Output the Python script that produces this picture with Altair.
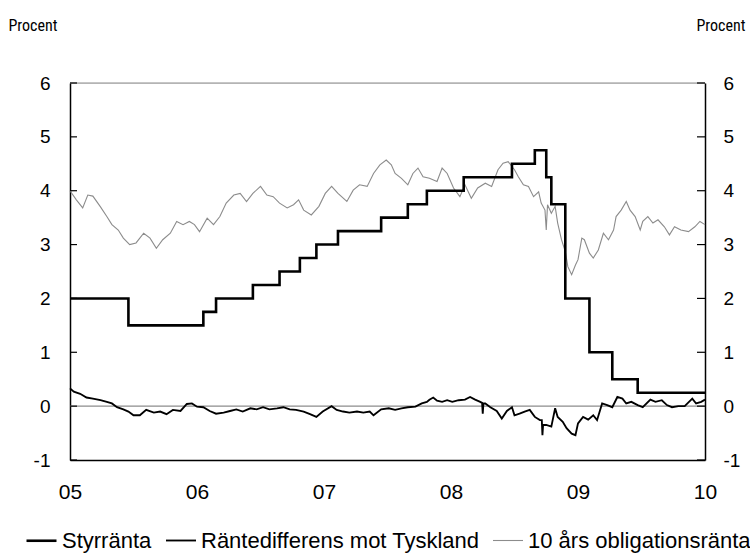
import altair as alt
import pandas as pd

# ---- Styrränta (step series) ----
rate_year = [2005.0, 2005.46, 2006.05, 2006.15, 2006.44, 2006.65, 2006.81, 2006.94, 2007.11,
             2007.45, 2007.66, 2007.81, 2008.10, 2008.48, 2008.66, 2008.75, 2008.79, 2008.90,
             2009.09, 2009.27, 2009.47, 2010.0]
rate_val = [2.0, 1.5, 1.75, 2.0, 2.25, 2.5, 2.75, 3.0, 3.25,
            3.5, 3.75, 4.0, 4.25, 4.5, 4.75, 4.25, 3.75, 2.0,
            1.0, 0.5, 0.25, 0.25]

# ---- 10 års obligationsränta ----
bond_year = [2005.00, 2005.05, 2005.10, 2005.14, 2005.18, 2005.24, 2005.29, 2005.33, 2005.38, 2005.42,
             2005.47, 2005.52, 2005.58, 2005.63, 2005.68, 2005.73, 2005.79, 2005.84, 2005.89, 2005.94,
             2005.98, 2006.02, 2006.08, 2006.13, 2006.18, 2006.23, 2006.29, 2006.34, 2006.39, 2006.44,
             2006.50, 2006.55, 2006.60, 2006.65, 2006.71, 2006.76, 2006.80, 2006.84, 2006.90, 2006.96,
             2007.01, 2007.06, 2007.11, 2007.18, 2007.23, 2007.28, 2007.34, 2007.39,
             2007.44, 2007.49, 2007.53, 2007.56, 2007.61, 2007.66, 2007.70, 2007.74, 2007.78, 2007.83,
             2007.89, 2007.93, 2007.97,
             2008.02, 2008.07, 2008.11, 2008.16, 2008.21, 2008.27, 2008.32, 2008.37, 2008.41, 2008.45,
             2008.48, 2008.50, 2008.53, 2008.57, 2008.61, 2008.65, 2008.69, 2008.71, 2008.74, 2008.75,
             2008.76, 2008.79, 2008.82, 2008.84, 2008.87, 2008.90, 2008.92, 2008.95, 2008.98,
             2009.00, 2009.03, 2009.05, 2009.09, 2009.12, 2009.16, 2009.20, 2009.24, 2009.28, 2009.30,
             2009.34, 2009.38, 2009.41, 2009.45, 2009.49, 2009.51, 2009.55, 2009.59, 2009.63, 2009.68,
             2009.72, 2009.76, 2009.81, 2009.87, 2009.92, 2009.96, 2010.00]
bond_val = [4.00, 3.83, 3.68, 3.92, 3.90, 3.70, 3.52, 3.37, 3.27, 3.12,
            3.00, 3.03, 3.21, 3.12, 2.93, 3.09, 3.21, 3.43, 3.37, 3.43,
            3.37, 3.24, 3.49, 3.37, 3.52, 3.77, 3.92, 3.95, 3.80, 3.95,
            4.08, 3.92, 3.89, 3.77, 3.68, 3.74, 3.83, 3.64, 3.55, 3.71,
            3.95, 4.08, 3.95, 3.80, 4.01, 4.11, 4.08, 4.32,
            4.48, 4.57, 4.48, 4.32, 4.23, 4.11, 4.32, 4.42, 4.26, 4.23,
            4.17, 4.42, 4.32,
            4.05, 3.89, 4.11, 3.86, 4.05, 4.14, 4.08, 4.39, 4.51, 4.54,
            4.45, 4.39, 4.26, 4.11, 4.08, 3.89, 3.98, 3.77, 3.64, 3.27,
            3.74, 3.58, 3.71, 3.40, 3.09, 2.87, 2.59, 2.44, 2.62,
            2.72, 3.12, 3.09, 2.84, 2.75, 2.90, 3.21, 3.09, 3.27, 3.52,
            3.64, 3.80, 3.64, 3.52, 3.27, 3.43, 3.52, 3.40, 3.46, 3.33,
            3.18, 3.33, 3.27, 3.24, 3.33, 3.43, 3.37]

# ---- Räntedifferens mot Tyskland ----
diff_year = [2005.00, 2005.03, 2005.08, 2005.13, 2005.18, 2005.24, 2005.29, 2005.33, 2005.37, 2005.42,
             2005.46, 2005.50, 2005.55, 2005.60, 2005.66, 2005.71, 2005.76, 2005.81, 2005.87, 2005.92,
             2005.96, 2006.00, 2006.05, 2006.10, 2006.15, 2006.21, 2006.26, 2006.31, 2006.36, 2006.42,
             2006.47, 2006.52, 2006.57, 2006.63, 2006.68, 2006.73, 2006.78, 2006.84, 2006.89, 2006.94,
             2006.99, 2007.06, 2007.10, 2007.15, 2007.20, 2007.26, 2007.31, 2007.36, 2007.39,
             2007.45, 2007.51, 2007.56, 2007.61, 2007.66, 2007.72, 2007.77, 2007.81, 2007.83, 2007.86,
             2007.89, 2007.93, 2007.97,
             2008.01, 2008.06, 2008.11, 2008.15, 2008.19, 2008.23, 2008.245, 2008.25, 2008.255, 2008.27,
             2008.31, 2008.36, 2008.40, 2008.44, 2008.48, 2008.50, 2008.54, 2008.58, 2008.62, 2008.66,
             2008.70, 2008.715, 2008.72, 2008.725, 2008.75, 2008.79, 2008.82, 2008.84, 2008.88, 2008.91,
             2008.95, 2008.98,
             2009.00, 2009.04, 2009.08, 2009.12, 2009.15, 2009.19, 2009.23, 2009.27, 2009.31, 2009.35,
             2009.38, 2009.42, 2009.47, 2009.51, 2009.57, 2009.61, 2009.66, 2009.70, 2009.74, 2009.79,
             2009.84, 2009.90, 2009.93, 2009.97, 2010.00]
diff_val = [0.33, 0.27, 0.23, 0.16, 0.14, 0.11, 0.08, 0.05, -0.02, -0.06,
            -0.10, -0.17, -0.17, -0.07, -0.12, -0.10, -0.15, -0.07, -0.09, 0.04,
            0.05, -0.01, -0.02, -0.09, -0.14, -0.12, -0.09, -0.06, -0.10, -0.04,
            -0.06, -0.02, -0.06, -0.04, -0.02, -0.06, -0.07, -0.10, -0.15, -0.20,
            -0.10, 0.00, -0.07, -0.10, -0.12, -0.10, -0.12, -0.10, -0.17,
            -0.06, -0.04, -0.07, -0.04, -0.02, -0.01, 0.05, 0.08, 0.12, 0.16,
            0.10, 0.08, 0.11,
            0.08, 0.11, 0.12, 0.17, 0.12, 0.08, 0.06, -0.14, 0.05, 0.05,
            -0.02, -0.09, -0.23, -0.09, -0.02, -0.17, -0.14, -0.10, -0.07, -0.20,
            -0.26, -0.26, -0.54, -0.35, -0.35, -0.38, -0.04, -0.20, -0.29, -0.41,
            -0.51, -0.54,
            -0.32, -0.20, -0.25, -0.17, -0.26, 0.05, 0.02, -0.02, 0.17, 0.14,
            0.05, 0.08, 0.02, -0.02, 0.12, 0.08, 0.11, 0.02, -0.02, 0.00,
            0.00, 0.14, 0.05, 0.08, 0.12]

series_names = ["Styrränta", "Räntedifferens mot Tyskland", "10 års obligationsränta"]
series_colors = ["#000000", "#000000", "#8c8c8c"]
series_widths = [2.6, 1.1, 1.2]

x_ticks = [2005, 2006, 2007, 2008, 2009, 2010]
y_ticks = [-1, 0, 1, 2, 3, 4, 5, 6]

df_rate = pd.DataFrame({"year": rate_year, "value": rate_val, "serie": series_names[0]})
df_diff = pd.DataFrame({"year": diff_year, "value": diff_val, "serie": series_names[1]})
df_bond = pd.DataFrame({"year": bond_year, "value": bond_val, "serie": series_names[2]})
df_yt = pd.DataFrame({"v": y_ticks})
df_zero = pd.DataFrame({"v": [0]})

W, H = 635, 377
FONT = "Liberation Sans"
NARROW = "Liberation Sans Narrow, Roboto Condensed, DejaVu Sans Condensed, Arial Narrow, Liberation Sans"

xdom = alt.Scale(domain=[2005, 2010], nice=False, zero=False)
yscale = alt.Scale(domain=[-1, 6], nice=False, zero=False)

x_enc = alt.X("year:Q", scale=xdom, title=None,
              axis=alt.Axis(values=x_ticks, labelExpr="substring(toString(datum.value), 2, 4)",
                            ticks=False, grid=False, domainColor="#000", domainWidth=1.5,
                            labelFont=FONT, labelFontSize=21, labelColor="#000", labelPadding=21,
                            labelFlush=False))

legend = alt.Legend(title=None, orient="none", legendX=-45, legendY=441, direction="horizontal",
                    symbolType="stroke", symbolSize=900, labelFont=FONT, labelFontSize=22,
                    labelColor="#000", labelOffset=4, columnPadding=10, labelLimit=0)

color_enc = alt.Color("serie:N", scale=alt.Scale(domain=series_names, range=series_colors), legend=legend)
sw_enc = alt.StrokeWidth("serie:N", scale=alt.Scale(domain=series_names, range=series_widths), legend=legend)

left_axis = alt.Axis(values=y_ticks, ticks=False, grid=False, domainColor="#000", domainWidth=1.5,
                     labelExpr="toString(datum.value)",
                     labelFont=FONT, labelFontSize=19, labelColor="#000", labelPadding=20,
                     title="Procent", titleAngle=0, titleAlign="left", titleBaseline="alphabetic",
                     titleX=-62, titleY=-53, titleFont=NARROW, titleFontSize=16,
                     titleFontWeight="normal", titleColor="#000")
right_axis = alt.Axis(values=y_ticks, ticks=False, grid=False, domainColor="#000", domainWidth=1.5,
                      labelExpr="toString(datum.value)",
                      labelFont=FONT, labelFontSize=19, labelColor="#000", labelPadding=18,
                      orient="right",
                      title="Procent", titleAngle=0, titleAlign="right", titleBaseline="alphabetic",
                      titleX=40, titleY=-53, titleFont=NARROW, titleFontSize=16,
                      titleFontWeight="normal", titleColor="#000")

top_border = alt.Chart(df_zero).mark_rule(color="#8c8c8c", strokeWidth=1).encode(
    x=alt.value(0), x2=alt.value(W), y=alt.value(0))

bond = alt.Chart(df_bond).mark_line(interpolate="linear").encode(
    x=x_enc, y=alt.Y("value:Q", scale=yscale, axis=left_axis, title="Procent"),
    color=color_enc, strokeWidth=sw_enc)

zero = alt.Chart(df_zero).mark_rule(color="#8c8c8c", strokeWidth=1.2).encode(
    y=alt.Y("v:Q", scale=yscale, axis=None), x=alt.value(0), x2=alt.value(W))

diff = alt.Chart(df_diff).mark_line(interpolate="linear").encode(
    x=x_enc, y=alt.Y("value:Q", scale=yscale, axis=None),
    color=color_enc, strokeWidth=sw_enc)

rate = alt.Chart(df_rate).mark_line(interpolate="step-after").encode(
    x=x_enc, y=alt.Y("value:Q", scale=yscale, axis=None),
    color=color_enc, strokeWidth=sw_enc)

ticks_left = alt.Chart(df_yt).mark_rule(color="#000", strokeWidth=1.2).encode(
    y=alt.Y("v:Q", scale=yscale, axis=None), x=alt.value(0), x2=alt.value(7))

ticks_right = alt.Chart(df_yt).mark_rule(color="#000", strokeWidth=1.2).encode(
    y=alt.Y("v:Q", scale=yscale, axis=right_axis, title="Procent"), x=alt.value(W - 8), x2=alt.value(W))

chart = alt.layer(top_border, bond, zero, diff, rate, ticks_left, ticks_right).resolve_scale(
    y="shared").resolve_axis(y="independent").properties(
    width=W, height=H,
    autosize=alt.AutoSizeParams(type="none"),
    padding={"left": 70, "top": 83, "right": 45, "bottom": 94},
).configure_view(stroke=None).configure(background="white")

chart.save("out.html", embed_options={"renderer": "svg", "actions": False})
